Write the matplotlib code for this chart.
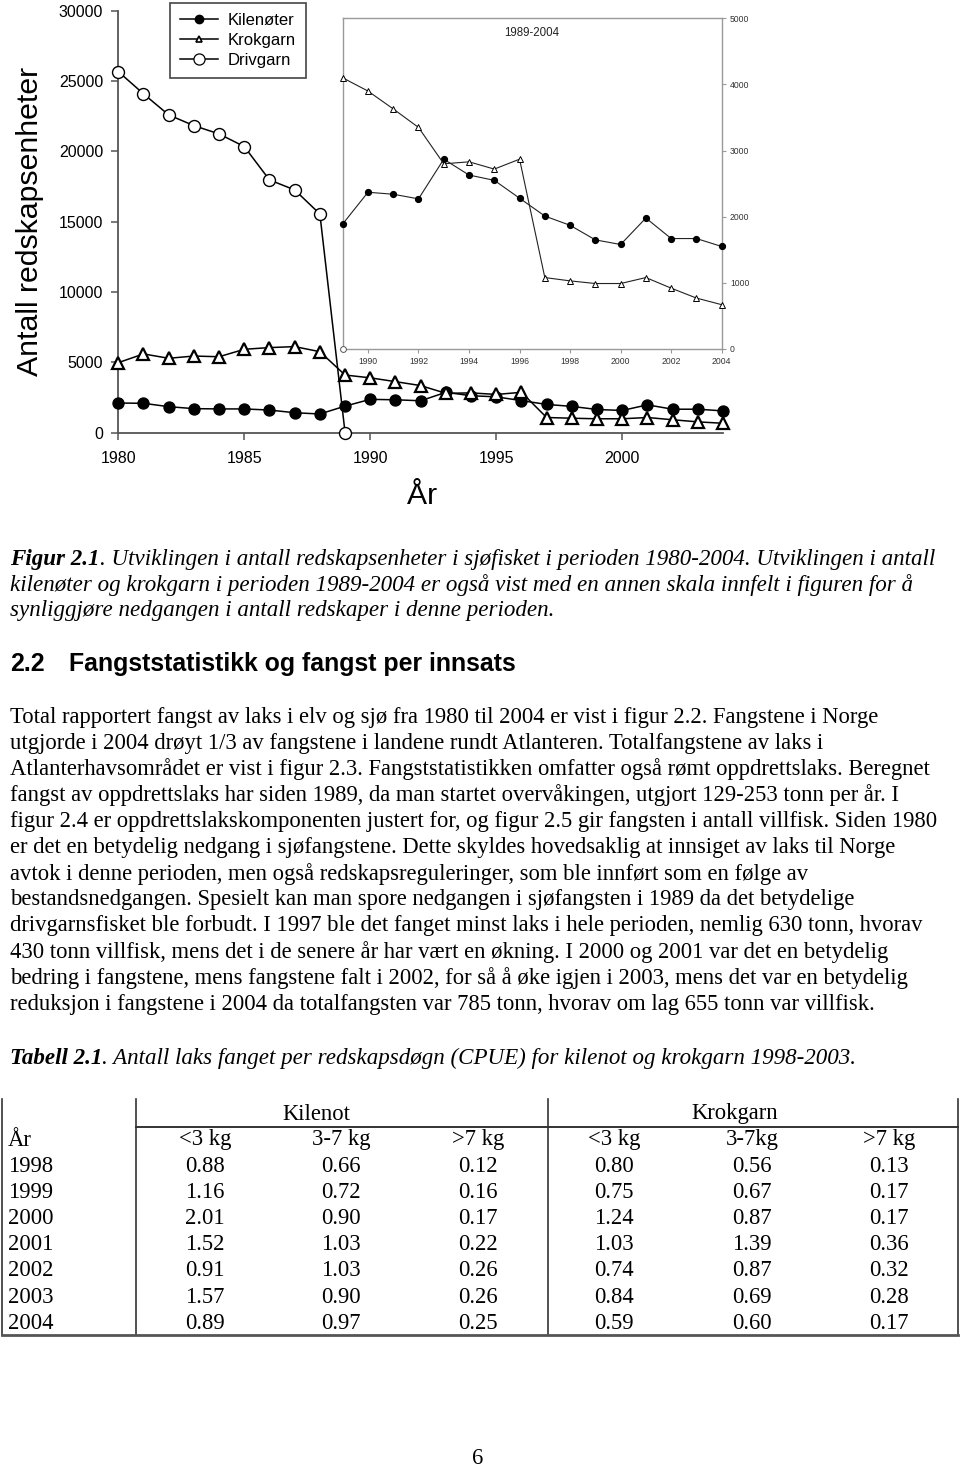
import matplotlib
matplotlib.use('Agg')
import matplotlib.pyplot as plt
from matplotlib.lines import Line2D

# ---------------- data ----------------
years = list(range(1980, 2005))
kilenoter = [2110, 2090, 1850, 1710, 1690, 1690, 1610, 1420, 1330, 1890,
             2370, 2340, 2270, 2870, 2630, 2550, 2280, 2010, 1870, 1650,
             1580, 1980, 1670, 1670, 1550]
krokgarn = [4980, 5600, 5290, 5450, 5400, 5930, 6050, 6120, 5760, 4100,
            3900, 3630, 3350, 2800, 2830, 2720, 2870, 1080, 1030, 990,
            990, 1080, 920, 770, 670]
drivgarn_years = list(range(1980, 1990))
drivgarn = [25670, 24090, 22590, 21830, 21240, 20340, 17970, 17260, 15550, 0]

series_labels = ['Kilenøter', 'Krokgarn', 'Drivgarn']
main_xticks = [1980, 1985, 1990, 1995, 2000]
main_yticks = [0, 5000, 10000, 15000, 20000, 25000, 30000]
inset_xticks = [1990, 1992, 1994, 1996, 1998, 2000, 2002, 2004]
inset_yticks = [0, 1000, 2000, 3000, 4000, 5000]
inset_start = 1989

table_years = ['1998', '1999', '2000', '2001', '2002', '2003', '2004']
kil_small = [0.88, 1.16, 2.01, 1.52, 0.91, 1.57, 0.89]
kil_mid = [0.66, 0.72, 0.90, 1.03, 1.03, 0.90, 0.97]
kil_large = [0.12, 0.16, 0.17, 0.22, 0.26, 0.26, 0.25]
krok_small = [0.80, 0.75, 1.24, 1.03, 0.74, 0.84, 0.59]
krok_mid = [0.56, 0.67, 0.87, 1.39, 0.87, 0.69, 0.60]
krok_large = [0.13, 0.17, 0.17, 0.36, 0.32, 0.28, 0.17]
table_groups = ['Kilenot', 'Krokgarn']
table_sub = ['<3 kg', '3-7 kg', '>7 kg', '<3 kg', '3-7kg', '>7 kg']

caption_lines = [
    ". Utviklingen i antall redskapsenheter i sjøfisket i perioden 1980-2004. Utviklingen i antall",
    "kilenøter og krokgarn i perioden 1989-2004 er også vist med en annen skala innfelt i figuren for å",
    "synliggjøre nedgangen i antall redskaper i denne perioden.",
]
body_lines = [
    "Total rapportert fangst av laks i elv og sjø fra 1980 til 2004 er vist i figur 2.2. Fangstene i Norge",
    "utgjorde i 2004 drøyt 1/3 av fangstene i landene rundt Atlanteren. Totalfangstene av laks i",
    "Atlanterhavsområdet er vist i figur 2.3. Fangststatistikken omfatter også rømt oppdrettslaks. Beregnet",
    "fangst av oppdrettslaks har siden 1989, da man startet overvåkingen, utgjort 129-253 tonn per år. I",
    "figur 2.4 er oppdrettslakskomponenten justert for, og figur 2.5 gir fangsten i antall villfisk. Siden 1980",
    "er det en betydelig nedgang i sjøfangstene. Dette skyldes hovedsaklig at innsiget av laks til Norge",
    "avtok i denne perioden, men også redskapsreguleringer, som ble innført som en følge av",
    "bestandsnedgangen. Spesielt kan man spore nedgangen i sjøfangsten i 1989 da det betydelige",
    "drivgarnsfisket ble forbudt. I 1997 ble det fanget minst laks i hele perioden, nemlig 630 tonn, hvorav",
    "430 tonn villfisk, mens det i de senere år har vært en økning. I 2000 og 2001 var det en betydelig",
    "bedring i fangstene, mens fangstene falt i 2002, for så å øke igjen i 2003, mens det var en betydelig",
    "reduksjon i fangstene i 2004 da totalfangsten var 785 tonn, hvorav om lag 655 tonn var villfisk.",
]

# ---------------- figure ----------------
W, H = 960, 1470
fig = plt.figure(figsize=(W / 100, H / 100), dpi=100)
fig.patch.set_facecolor('white')
SANS = 'Liberation Sans'
SERIF = 'Liberation Serif'
plt.rcParams['font.family'] = SANS


def fx(px):
    return px / W


def fy(py):
    return 1 - py / H


# main axes
ax = fig.add_axes([fx(118.3), fy(432.7), (723 - 118.3) / W, (432.7 - 10.7) / H])
ax.plot(years, kilenoter, color='black', lw=1.1, marker='o', ms=7.9,
        mfc='black', mec='black', clip_on=False, zorder=3)
ax.plot(years, krokgarn, color='black', lw=1.1, marker='^', ms=8.6,
        mfc='white', mec='black', mew=1.6, clip_on=False, zorder=3)
ax.plot(drivgarn_years, drivgarn, color='black', lw=1.1, marker='o', ms=8.6,
        mfc='white', mec='black', mew=1.0, clip_on=False, zorder=4)
ax.set_xlim(1980, 2004)
ax.set_ylim(0, 30000)
for s in ['top', 'right']:
    ax.spines[s].set_visible(False)
for s in ['left', 'bottom']:
    ax.spines[s].set_color('#555555')
    ax.spines[s].set_linewidth(1.3)
ax.set_xticks(main_xticks)
ax.set_yticks(main_yticks)
ax.tick_params(axis='both', direction='out', length=5, width=1.1, color='#555555',
               labelsize=11.5, labelcolor='black')
ax.tick_params(axis='x', pad=8)
ax.tick_params(axis='y', pad=6)
ax.set_ylabel('Antall redskapsenheter', fontsize=21.8)
ax.yaxis.set_label_coords(-0.123, 0.5)
ax.set_xlabel('År', fontsize=21.8)
ax.xaxis.set_label_coords(0.502, -0.118)

handles = [
    Line2D([], [], color='black', lw=1.1, marker='o', ms=6, mfc='black', mec='black'),
    Line2D([], [], color='black', lw=1.1, marker='^', ms=5, mfc='white', mec='black', mew=1.2),
    Line2D([], [], color='black', lw=1.1, marker='o', ms=8, mfc='white', mec='black', mew=0.9),
]
leg = ax.legend(handles, series_labels, loc='upper left',
                bbox_to_anchor=(fx(170), fy(3.3)), bbox_transform=fig.transFigure,
                borderaxespad=0, fontsize=12, frameon=True, fancybox=False,
                framealpha=1, edgecolor='#444444', handlelength=2.3,
                handletextpad=0.55, labelspacing=0.28, borderpad=0.6)
leg.get_frame().set_linewidth(1.2)

# inset axes
axin = fig.add_axes([fx(342.7), fy(349), (721.7 - 342.7) / W, (349 - 18.3) / H])
i0 = years.index(inset_start)
axin.plot(years[i0:], kilenoter[i0:], color='#222222', lw=0.8, marker='o', ms=4.2,
          mfc='black', mec='black', clip_on=False, zorder=3)
axin.plot(years[i0:], krokgarn[i0:], color='#222222', lw=0.8, marker='^', ms=4.2,
          mfc='white', mec='black', mew=0.7, clip_on=False, zorder=3)
axin.plot(drivgarn_years[-1:], drivgarn[-1:], color='#222222', lw=0.8, marker='o', ms=4.2,
          mfc='white', mec='#555555', mew=0.7, clip_on=False, zorder=3)
axin.set_xlim(1989, 2004)
axin.set_ylim(0, 5000)
for s in axin.spines.values():
    s.set_color('#999999')
    s.set_linewidth(1.0)
axin.yaxis.tick_right()
axin.set_xticks(inset_xticks)
axin.set_yticks(inset_yticks)
axin.tick_params(axis='both', direction='out', length=3, width=0.8, color='#999999',
                 labelsize=6.2, labelcolor='#333333', pad=3)
axin.text(0.5, 0.955, '1989-2004', transform=axin.transAxes, ha='center', va='center',
          fontsize=8.3, color='#222222')

# ---------------- page text ----------------
renderer = fig.canvas.get_renderer()
BODY = 16.3
ITAL = 16.6


def T(x, y, s, **kw):
    kw.setdefault('family', SERIF)
    kw.setdefault('fontsize', BODY)
    kw.setdefault('va', 'center')
    return fig.text(fx(x), fy(y), s, **kw)


def run_after(t, y, s, **kw):
    bb = t.get_window_extent(renderer)
    return T(bb.x1, y, s, **kw)


cap_y = [559, 585, 611]
t = T(10, cap_y[0], 'Figur 2.1', style='italic', weight='bold', fontsize=ITAL)
run_after(t, cap_y[0], caption_lines[0], style='italic', fontsize=ITAL)
for y, line in zip(cap_y[1:], caption_lines[1:]):
    T(10, y, line, style='italic', fontsize=ITAL)

T(10, 664, '2.2', family=SANS, weight='bold', fontsize=17.9)
T(69, 664, 'Fangststatistikk og fangst per innsats', family=SANS, weight='bold',
  fontsize=17.9)

for i, line in enumerate(body_lines):
    T(10, 717 + 26.1 * i, line)

t = T(10, 1058, 'Tabell 2.1', style='italic', weight='bold', fontsize=ITAL)
run_after(t, 1058, '. Antall laks fanget per redskapsdøgn (CPUE) for kilenot og krokgarn 1998-2003.',
          style='italic', fontsize=ITAL)

# ---------------- table ----------------
col_x = [205, 341, 478, 614, 752, 889]
group_x = [316, 735]
row0 = 1140
row_step = 26.2
for gx, g in zip(group_x, table_groups):
    T(gx, 1114, g, ha='center')
T(8, row0, 'År')
for cx, s in zip(col_x, table_sub):
    T(cx, row0, s, ha='center')
cols = [kil_small, kil_mid, kil_large, krok_small, krok_mid, krok_large]
for r, yr in enumerate(table_years):
    y = row0 + row_step * (r + 1)
    T(8, y, yr)
    for cx, vals in zip(col_x, cols):
        T(cx, y, f'{vals[r]:.2f}', ha='center')


def hline(x1, x2, y, lw=1.2, color='#333333'):
    fig.add_artist(Line2D([fx(x1), fx(x2)], [fy(y), fy(y)], transform=fig.transFigure,
                          color=color, lw=lw))


def vline(x, y1, y2, lw=1.2, color='#333333'):
    fig.add_artist(Line2D([fx(x), fx(x)], [fy(y1), fy(y2)], transform=fig.transFigure,
                          color=color, lw=lw))


for x in [2, 136, 548, 958]:
    vline(x, 1099, 1335)
hline(136, 958, 1127, lw=1.4)
hline(2, 958, 1335, lw=2.0, color='#555555')

T(478, 1468.5, '6', ha='center', va='bottom')

fig.savefig('out.png', dpi=100)
